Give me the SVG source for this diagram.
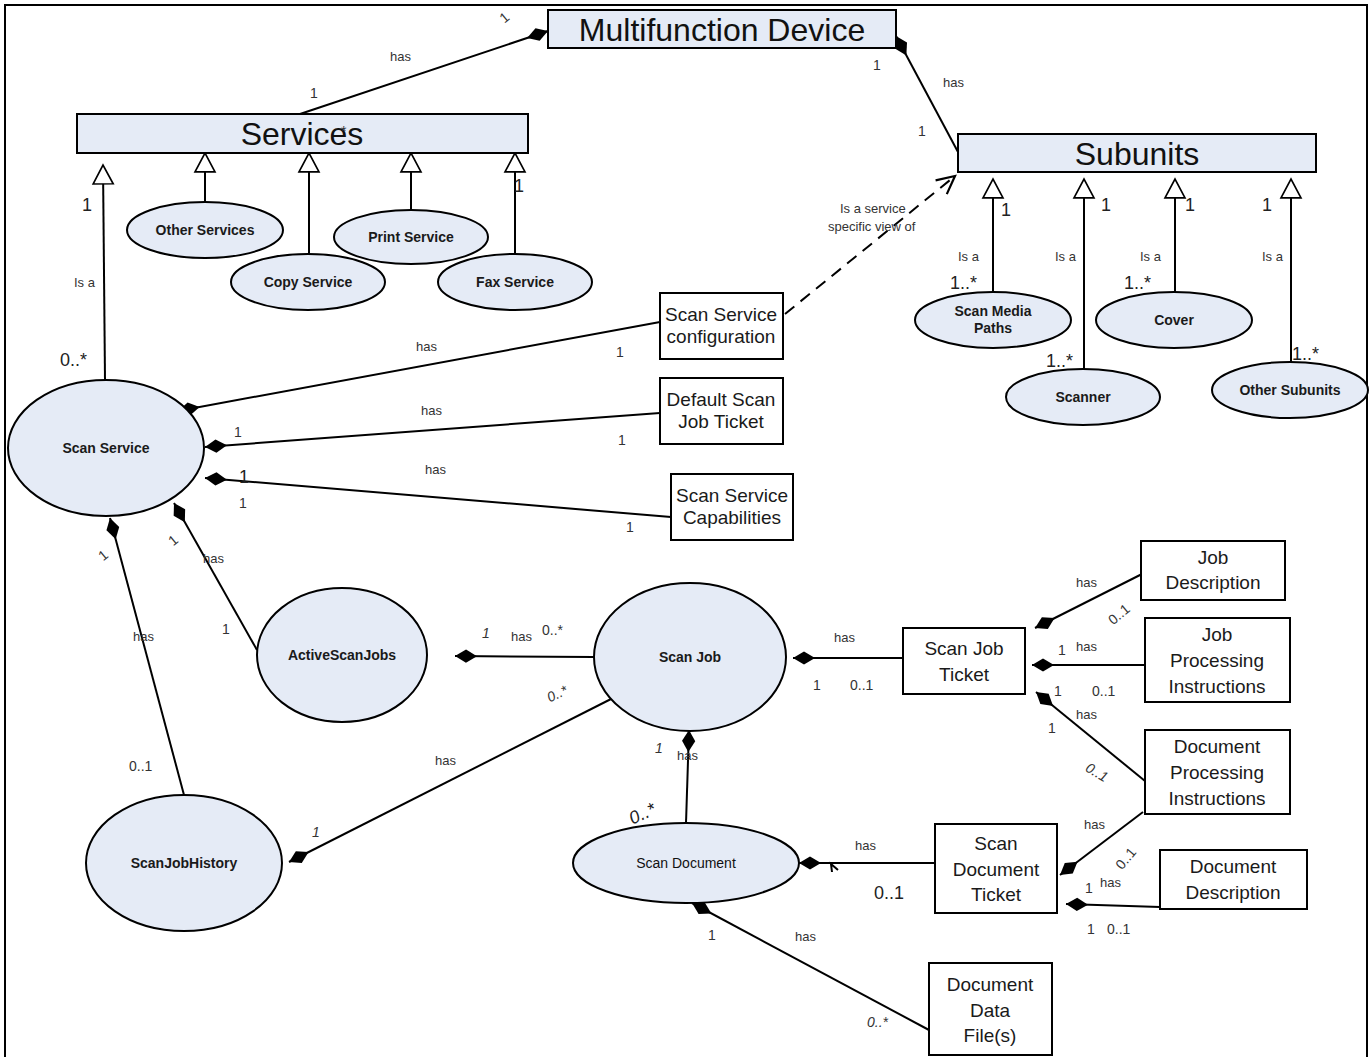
<svg xmlns="http://www.w3.org/2000/svg" width="1370" height="1057" viewBox="0 0 1370 1057">
  <style>
    text { font-family: "Liberation Sans", Arial, sans-serif; fill: #111; }
    .box { fill: #ffffff; stroke: #000; stroke-width: 2; }
    .hdr { fill: #e5ebf6; stroke: #000; stroke-width: 2; }
    .ell { fill: #e5ebf6; stroke: #000; stroke-width: 2; }
    .big { font-size: 32px; text-anchor: middle; }
    .bt { font-size: 19px; text-anchor: middle; fill: #1a1a1a; }
    .et { font-size: 14px; font-weight: bold; text-anchor: middle; fill: #1a1a1a; }
    .lbl { font-size: 13px; fill: #333; }
    .m { font-size: 14px; fill: #333; }
    .ml { font-size: 18px; fill: #222; }
    .it { font-style: italic; }
    .edge { fill: none; stroke: #000; stroke-width: 2; }
    .comp { marker-start: url(#diamond); }
    .gen { marker-end: url(#triangle); }
    .dash { fill: none; stroke: #000; stroke-width: 2; stroke-dasharray: 12 8; marker-end: url(#openArrow); }
  </style>
  <defs>
    <marker id="diamond" markerUnits="userSpaceOnUse" markerWidth="22" markerHeight="14" refX="0" refY="6" orient="auto" viewBox="0 0 20 12" overflow="visible">
      <path d="M0,6 L10,0 L20,6 L10,12 Z" fill="#000"/>
    </marker>
    <marker id="triangle" markerUnits="userSpaceOnUse" markerWidth="20" markerHeight="20" refX="17" refY="9" orient="auto" viewBox="0 0 18 18" overflow="visible">
      <path d="M0,0 L17,9 L0,18 Z" fill="#fff" stroke="#000" stroke-width="1.5"/>
    </marker>
    <marker id="openArrow" markerUnits="userSpaceOnUse" markerWidth="20" markerHeight="20" refX="16" refY="8" orient="auto" viewBox="0 0 18 16" overflow="visible">
      <path d="M0,0 L16,8 L0,16" fill="none" stroke="#000" stroke-width="2"/>
    </marker>
  </defs>

  <!-- frame -->
  <rect x="5" y="5" width="1362" height="1070" fill="#fff" stroke="#000" stroke-width="2"/>

  <!-- connectors -->
  <g id="connectors">
    <!-- top level -->
    <line class="edge comp" x1="548" y1="31" x2="300" y2="114"/>
    <line class="edge comp" x1="896" y1="36" x2="958" y2="152"/>

    <!-- service generalizations -->
    <line class="edge gen" x1="205" y1="202" x2="205" y2="153"/>
    <line class="edge gen" x1="309" y1="254" x2="309" y2="153"/>
    <line class="edge gen" x1="411" y1="210" x2="411" y2="153"/>
    <line class="edge gen" x1="515" y1="254" x2="515" y2="153"/>
    <line class="edge gen" x1="105" y1="380" x2="103" y2="165"/>

    <!-- subunit generalizations -->
    <line class="edge gen" x1="993" y1="292" x2="993" y2="179"/>
    <line class="edge gen" x1="1084" y1="369" x2="1084" y2="179"/>
    <line class="edge gen" x1="1175" y1="292" x2="1175" y2="179"/>
    <line class="edge gen" x1="1291" y1="362" x2="1291" y2="179"/>

    <!-- service view dependency -->
    <line class="dash" x1="785" y1="314" x2="955" y2="176"/>

    <!-- scan service parts -->
    <line class="edge comp" x1="178" y1="411" x2="660" y2="322"/>
    <line class="edge comp" x1="205" y1="447" x2="660" y2="413"/>
    <line class="edge comp" x1="205" y1="478" x2="671" y2="517"/>
    <line class="edge comp" x1="174" y1="503" x2="257" y2="650"/>
    <line class="edge comp" x1="110" y1="518" x2="184" y2="795"/>

    <!-- scan job relations -->
    <line class="edge comp" x1="455" y1="656" x2="594" y2="657"/>
    <line class="edge comp" x1="289" y1="862" x2="613" y2="698"/>
    <line class="edge comp" x1="793" y1="658" x2="903" y2="658"/>
    <line class="edge comp" x1="689" y1="730" x2="686" y2="823"/>

    <!-- scan job ticket parts -->
    <line class="edge comp" x1="1035" y1="628" x2="1142" y2="574"/>
    <line class="edge comp" x1="1032" y1="665" x2="1145" y2="665"/>
    <line class="edge comp" x1="1036" y1="692" x2="1145" y2="781"/>

    <!-- scan document relations -->
    <line class="edge comp" x1="799" y1="863" x2="935" y2="863"/>
    <path class="edge" d="M838,870 L831,864 L832,872" stroke-width="1.5"/>
    <line class="edge comp" x1="1060" y1="875" x2="1143" y2="812"/>
    <line class="edge comp" x1="1066" y1="904" x2="1160" y2="907"/>
    <line class="edge comp" x1="692" y1="903" x2="929" y2="1030"/>
  </g>

  <!-- class boxes -->
  <g id="multifunction-device">
    <rect class="hdr" x="548" y="10" width="348" height="38"/>
    <text class="big" x="722" y="41">Multifunction Device</text>
  </g>
  <g id="services">
    <rect class="hdr" x="77" y="114" width="451" height="39"/>
    <text class="big" x="302" y="145">Services</text>
    <text class="m" x="341" y="136">*</text>
  </g>
  <g id="subunits">
    <rect class="hdr" x="958" y="134" width="358" height="38"/>
    <text class="big" x="1137" y="165">Subunits</text>
  </g>

  <g id="other-services">
    <ellipse class="ell" cx="205" cy="230" rx="78" ry="28"/>
    <text class="et" x="205" y="235">Other Services</text>
  </g>
  <g id="copy-service">
    <ellipse class="ell" cx="308" cy="282" rx="77" ry="28"/>
    <text class="et" x="308" y="287">Copy Service</text>
  </g>
  <g id="print-service">
    <ellipse class="ell" cx="411" cy="237" rx="77" ry="27"/>
    <text class="et" x="411" y="242">Print Service</text>
  </g>
  <g id="fax-service">
    <ellipse class="ell" cx="515" cy="282" rx="77" ry="28"/>
    <text class="et" x="515" y="287">Fax Service</text>
  </g>

  <g id="scan-media-paths">
    <ellipse class="ell" cx="993" cy="320" rx="78" ry="28"/>
    <text class="et" x="993" y="316">Scan Media</text>
    <text class="et" x="993" y="333">Paths</text>
  </g>
  <g id="cover">
    <ellipse class="ell" cx="1174" cy="320" rx="78" ry="28"/>
    <text class="et" x="1174" y="325">Cover</text>
  </g>
  <g id="scanner">
    <ellipse class="ell" cx="1083" cy="397" rx="77" ry="28"/>
    <text class="et" x="1083" y="402">Scanner</text>
  </g>
  <g id="other-subunits">
    <ellipse class="ell" cx="1290" cy="390" rx="78" ry="28"/>
    <text class="et" x="1290" y="395">Other Subunits</text>
  </g>

  <g id="scan-service">
    <ellipse class="ell" cx="106" cy="448" rx="98" ry="68"/>
    <text class="et" x="106" y="453">Scan Service</text>
  </g>
  <g id="active-scan-jobs">
    <ellipse class="ell" cx="342" cy="655" rx="85" ry="67"/>
    <text class="et" x="342" y="660">ActiveScanJobs</text>
  </g>
  <g id="scan-job-history">
    <ellipse class="ell" cx="184" cy="863" rx="98" ry="68"/>
    <text class="et" x="184" y="868">ScanJobHistory</text>
  </g>
  <g id="scan-job">
    <ellipse class="ell" cx="690" cy="657" rx="96" ry="74"/>
    <text class="et" x="690" y="662">Scan Job</text>
  </g>
  <g id="scan-document">
    <ellipse class="ell" cx="686" cy="863" rx="113" ry="40"/>
    <text x="686" y="868" font-size="14" text-anchor="middle" fill="#1a1a1a">Scan Document</text>
  </g>

  <g id="scan-service-configuration">
    <rect class="box" x="660" y="293" width="123" height="66"/>
    <text class="bt" x="721" y="321">Scan Service</text>
    <text class="bt" x="721" y="343">configuration</text>
  </g>
  <g id="default-scan-job-ticket">
    <rect class="box" x="660" y="378" width="123" height="66"/>
    <text class="bt" x="721" y="406">Default Scan</text>
    <text class="bt" x="721" y="428">Job Ticket</text>
  </g>
  <g id="scan-service-capabilities">
    <rect class="box" x="671" y="474" width="122" height="66"/>
    <text class="bt" x="732" y="502">Scan Service</text>
    <text class="bt" x="732" y="524">Capabilities</text>
  </g>
  <g id="scan-job-ticket">
    <rect class="box" x="903" y="628" width="122" height="66"/>
    <text class="bt" x="964" y="655" font-size="21">Scan Job</text>
    <text class="bt" x="964" y="681" font-size="21">Ticket</text>
  </g>
  <g id="job-description">
    <rect class="box" x="1141" y="541" width="144" height="59"/>
    <text class="bt" x="1213" y="564" font-size="21">Job</text>
    <text class="bt" x="1213" y="589" font-size="21">Description</text>
  </g>
  <g id="job-processing-instructions">
    <rect class="box" x="1145" y="618" width="145" height="84"/>
    <text class="bt" x="1217" y="641" font-size="21">Job</text>
    <text class="bt" x="1217" y="667" font-size="21">Processing</text>
    <text class="bt" x="1217" y="693" font-size="21">Instructions</text>
  </g>
  <g id="document-processing-instructions">
    <rect class="box" x="1145" y="730" width="145" height="84"/>
    <text class="bt" x="1217" y="753" font-size="21">Document</text>
    <text class="bt" x="1217" y="779" font-size="21">Processing</text>
    <text class="bt" x="1217" y="805" font-size="21">Instructions</text>
  </g>
  <g id="scan-document-ticket">
    <rect class="box" x="935" y="824" width="122" height="89"/>
    <text class="bt" x="996" y="850" font-size="21">Scan</text>
    <text class="bt" x="996" y="876" font-size="21">Document</text>
    <text class="bt" x="996" y="901" font-size="21">Ticket</text>
  </g>
  <g id="document-description">
    <rect class="box" x="1160" y="850" width="147" height="59"/>
    <text class="bt" x="1233" y="873" font-size="21">Document</text>
    <text class="bt" x="1233" y="899" font-size="21">Description</text>
  </g>
  <g id="document-data-files">
    <rect class="box" x="929" y="963" width="123" height="92"/>
    <text class="bt" x="990" y="991" font-size="21">Document</text>
    <text class="bt" x="990" y="1017" font-size="21">Data</text>
    <text class="bt" x="990" y="1042" font-size="21">File(s)</text>
  </g>

  <!-- connector labels -->
  <g id="labels">
    <text class="m" x="501" y="22" transform="rotate(-40 505 18)">1</text>
    <text class="lbl" x="390" y="61">has</text>
    <text class="m" x="310" y="98">1</text>
    <text class="m" x="873" y="70">1</text>
    <text class="lbl" x="943" y="87">has</text>
    <text class="m" x="918" y="136">1</text>

    <text class="ml" x="82" y="211">1</text>
    <text class="lbl" x="74" y="287">Is a</text>
    <text class="ml" x="60" y="366">0..*</text>
    <text class="ml" x="514" y="192">1</text>

    <text class="lbl" x="840" y="213">Is a service</text>
    <text class="lbl" x="828" y="231">specific view of</text>

    <text class="ml" x="1001" y="216">1</text>
    <text class="lbl" x="958" y="261">Is a</text>
    <text class="ml" x="950" y="289">1..*</text>
    <text class="ml" x="1101" y="211">1</text>
    <text class="lbl" x="1055" y="261">Is a</text>
    <text class="ml" x="1046" y="367">1..*</text>
    <text class="ml" x="1185" y="211">1</text>
    <text class="lbl" x="1140" y="261">Is a</text>
    <text class="ml" x="1124" y="289">1..*</text>
    <text class="ml" x="1262" y="211">1</text>
    <text class="lbl" x="1262" y="261">Is a</text>
    <text class="ml" x="1292" y="360">1..*</text>

    <text class="lbl" x="416" y="351">has</text>
    <text class="m" x="616" y="357">1</text>
    <text class="lbl" x="421" y="415">has</text>
    <text class="m" x="234" y="437">1</text>
    <text class="m" x="618" y="445">1</text>
    <text class="lbl" x="425" y="474">has</text>
    <text class="ml" x="239" y="483">1</text>
    <text class="m" x="239" y="508">1</text>
    <text class="m" x="626" y="532">1</text>

    <text class="m" x="169" y="545" transform="rotate(-40 173 540)">1</text>
    <text class="lbl" x="203" y="563">has</text>
    <text class="m" x="222" y="634">1</text>
    <text class="m" x="99" y="560" transform="rotate(-40 103 555)">1</text>
    <text class="lbl" x="133" y="641">has</text>
    <text class="m" x="129" y="771">0..1</text>

    <text class="m it" x="482" y="638">1</text>
    <text class="lbl" x="511" y="641">has</text>
    <text class="m" x="542" y="635">0..*</text>
    <text class="m it" x="546" y="698" transform="rotate(-25 558 692)">0..*</text>
    <text class="lbl" x="435" y="765">has</text>
    <text class="m it" x="312" y="837">1</text>

    <text class="lbl" x="834" y="642">has</text>
    <text class="m" x="813" y="690">1</text>
    <text class="m" x="850" y="690">0..1</text>

    <text class="m it" x="655" y="753">1</text>
    <text class="lbl" x="677" y="760">has</text>
    <text class="ml it" x="628" y="820" transform="rotate(-25 641 812)">0..*</text>

    <text class="lbl" x="1076" y="587">has</text>
    <text class="m" x="1106" y="618" transform="rotate(-40 1120 612)">0..1</text>
    <text class="m" x="1058" y="655">1</text>
    <text class="lbl" x="1076" y="651">has</text>
    <text class="m" x="1054" y="696">1</text>
    <text class="m" x="1092" y="696">0..1</text>
    <text class="lbl" x="1076" y="719">has</text>
    <text class="m" x="1048" y="733">1</text>
    <text class="m it" x="1084" y="778" transform="rotate(30 1098 775)">0..1</text>

    <text class="lbl" x="855" y="850">has</text>
    <text class="ml" x="874" y="899">0..1</text>
    <text class="lbl" x="1084" y="829">has</text>
    <text class="m" x="1114" y="863" transform="rotate(-50 1126 858)">0..1</text>
    <text class="m" x="1085" y="893">1</text>
    <text class="lbl" x="1100" y="887">has</text>
    <text class="m" x="1087" y="934">1</text>
    <text class="m" x="1107" y="934">0..1</text>

    <text class="m" x="708" y="940">1</text>
    <text class="lbl" x="795" y="941">has</text>
    <text class="m it" x="867" y="1027">0..*</text>
  </g>
</svg>
